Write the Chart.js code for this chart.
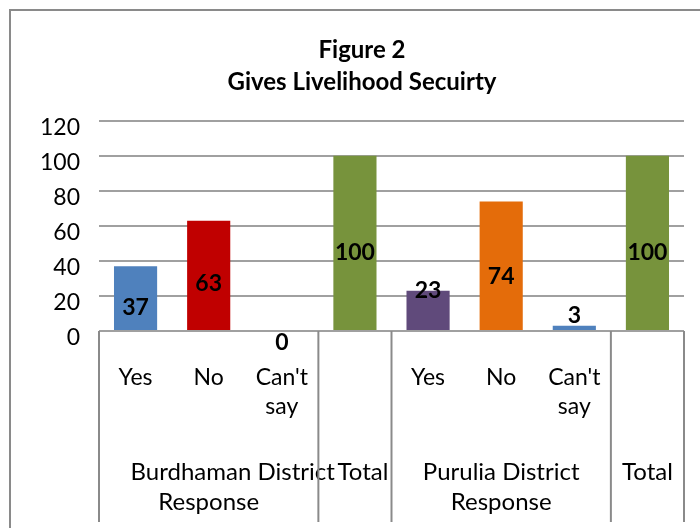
<!DOCTYPE html>
<html><head><meta charset="utf-8">
<script src="https://cdn.jsdelivr.net/npm/chart.js@4/dist/chart.umd.min.js"></script>
<style>
html,body{margin:0;padding:0;background:#fff;overflow:hidden;width:700px;height:528px;}
#frame{position:absolute;left:9px;top:9px;width:720px;height:560px;border:2px solid #8a8a8a;}
#c{position:absolute;left:0;top:0;}
</style></head><body>
<div id="frame"><canvas id="c" width="702" height="520"></canvas></div>
<script>
const titleLines = ["Figure 2", "Gives Livelihood Secuirty"];
const categories = ["Yes", "No", "Can't\nsay", "", "Yes", "No", "Can't\nsay", ""];
const groupLabels = ["Burdhaman District\nResponse", "Total", "Purulia District\nResponse", "Total"];
const groupSizes = [3, 1, 3, 1];
const values = [37, 63, 0, 100, 23, 74, 3, 100];
const yTicks = [0, 20, 40, 60, 80, 100, 120];

const barColors = ["#4F81BD", "#C00000", "#4F81BD", "#77933C", "#604A7B", "#E46C0A", "#4F81BD", "#77933C"];
const labelDy = [9, 8, 12, 9.5, -20, 11, -12, 9.5];
const groupLineDx = [[24, 0], [8], [0, 0], [0]];

const FONT = "Lato";

const xLabels = {
  id: 'xLabels',
  afterDraw(chart) {
    const {ctx, chartArea: a, scales: {x}} = chart;
    const half = (x.getPixelForValue(1) - x.getPixelForValue(0)) / 2;
    ctx.save();
    ctx.strokeStyle = '#8a8a8a'; ctx.lineWidth = 2;
    const bounds = [x.getPixelForValue(0) - half];
    let idx = 0;
    const centers = [];
    groupSizes.forEach(n => {
      const start = idx; idx += n;
      const right = x.getPixelForValue(idx - 1) + half;
      const left = x.getPixelForValue(start) - half;
      centers.push((left + right) / 2);
      bounds.push(right);
    });
    ctx.fillStyle = '#000';
    ctx.textAlign = 'center'; ctx.textBaseline = 'middle';
    ctx.font = '23px ' + FONT;
    categories.forEach((c, i) => {
      const px = x.getPixelForValue(i);
      c.split('\n').forEach((ln, k) => ctx.fillText(ln, px, a.bottom + 47 + k * 29));
    });
    ctx.font = '24px ' + FONT;
    groupLabels.forEach((g, i) => {
      g.split('\n').forEach((ln, k) => ctx.fillText(ln, centers[i] + (groupLineDx[i][k] || 0), a.bottom + 141 + k * 30));
    });
    bounds.forEach(b => {
      ctx.beginPath(); ctx.moveTo(b, a.bottom); ctx.lineTo(b, a.bottom + 191); ctx.stroke();
    });
    ctx.restore();
  }
};

const dataLabels = {
  id: 'dataLabels',
  afterDatasetsDraw(chart) {
    const {ctx} = chart;
    const meta = chart.getDatasetMeta(0);
    ctx.save();
    ctx.fillStyle = '#000';
    ctx.font = 'bold 23px ' + FONT;
    ctx.textAlign = 'center'; ctx.textBaseline = 'middle';
    meta.data.forEach((el, i) => {
      const cy = (el.y + el.base) / 2 + labelDy[i];
      ctx.fillText(String(values[i]), el.x, cy);
    });
    ctx.restore();
  }
};

new Chart(document.getElementById('c'), {
  type: 'bar',
  data: {
    labels: categories,
    datasets: [{
      data: values,
      backgroundColor: barColors,
      borderWidth: 0,
      barPercentage: 0.59,
      categoryPercentage: 1
    }]
  },
  options: {
    responsive: false,
    animation: false,
    layout: {padding: {left: 0, right: 0, top: 0, bottom: 200}},
    plugins: {
      legend: {display: false},
      tooltip: {enabled: false},
      title: {
        display: true,
        text: titleLines,
        color: '#000',
        font: {family: FONT, size: 24, weight: 'bold', lineHeight: 1.35},
        padding: {top: 23, bottom: 22}
      }
    },
    scales: {
      x: {display: false, offset: true},
      y: {
        min: 0, max: 120,
        afterBuildTicks: s => { s.ticks = yTicks.map(v => ({value: v})); },
        afterFit: s => { s.width = 88; },
        border: {display: false},
        grid: {color: '#a0a0a0', lineWidth: 2, drawTicks: false},
        ticks: {color: '#000', font: {family: FONT, size: 23}, padding: 19, labelOffset: 7}
      },
      yR: {
        position: 'right',
        min: 0, max: 120,
        afterFit: s => { s.width = 29; },
        border: {display: false},
        grid: {display: false, drawTicks: false},
        ticks: {display: false}
      }
    }
  },
  plugins: [xLabels, dataLabels]
});
</script>
</body></html>
